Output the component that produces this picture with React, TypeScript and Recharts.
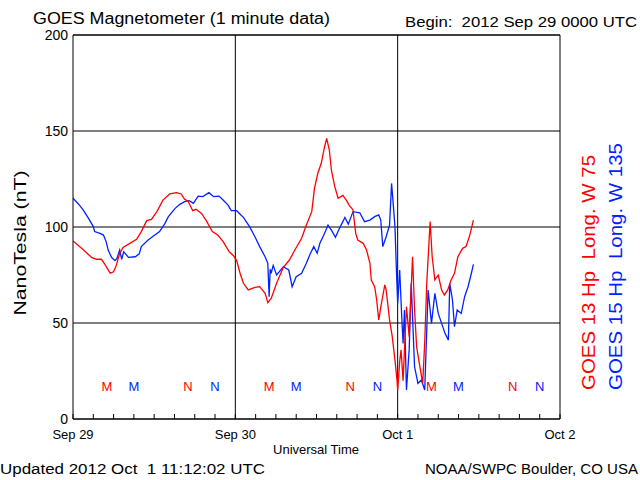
import {
  ComposedChart,
  Line,
  Scatter,
  XAxis,
  YAxis,
  CartesianGrid,
  ReferenceLine,
} from "recharts";

// hours since 2012 Sep 29 00:00 UTC
const redTimes = [
  0, 1.4, 2.8, 3.5, 4.2, 4.7, 5.5, 6.0, 6.4, 6.9, 7.4, 8.4, 9.4, 10.1, 10.9,
  11.6, 12.4, 13.3, 14.3, 15.3, 16.0, 16.5, 17.0, 17.7, 18.2, 19.0, 19.7, 20.6,
  21.4, 22.2, 23.1, 23.7, 24.2, 24.7, 25.2, 25.9, 26.9, 27.6, 28.4, 28.8, 29.3,
  30.1, 31.1, 32.0, 32.8, 33.8, 34.5, 35.3, 35.7, 36.2, 36.7, 37.2, 37.5, 37.9,
  38.2, 38.7, 39.2, 39.9, 40.4, 40.9, 41.4, 41.8, 42.1, 42.9, 43.4, 43.9, 44.1,
  44.6, 44.9, 45.2, 45.6, 46.1, 46.3, 46.8, 47.2, 47.6, 47.9, 48.0, 48.3, 48.5,
  48.8, 49.3, 49.7, 50.2, 50.5, 50.8, 51.2, 51.7, 52.0, 52.3, 52.8, 53.1, 53.5,
  54.0, 54.5, 54.9, 55.4, 55.9, 56.4, 56.9, 57.6, 58.1, 58.6, 59.2,
];
const redValues = [
  92.7, 88.5, 84, 83.2, 83.2, 80.7, 76, 76.7, 80, 86.3, 89.4, 91.5, 93.6, 97.6,
  103.3, 104, 108, 114, 117.2, 117.9, 117.2, 114.4, 113.5, 108.5, 109.2, 107.1,
  103.3, 97.6, 95.8, 92.4, 87.1, 85.2, 82.5, 75.9, 70.7, 67.2, 68.6, 68.9, 65.4,
  60.6, 62.8, 70.7, 79, 82.8, 88, 94.1, 101, 108, 120.1, 128, 133.2, 141.8,
  146.2, 140.1, 129.7, 121, 115, 116.5, 114, 111, 108.9, 96.7, 93.2, 91.5, 88,
  81.1, 72.4, 68.9, 62, 51.6, 60.2, 69.8, 67.2, 51.6, 42.9, 30.7, 20.3, 15, 30,
  36, 20, 58.5, 42.9, 84.5, 56.8, 37.7, 29, 18.5, 40, 70.7, 102.8, 84.5, 72.4,
  75, 67.2, 64.6, 67.2, 72.4, 75.9, 84.5, 88.9, 89.8, 94.9, 103.6,
];

const blueTimes = [
  0, 0.8, 1.5, 2.3, 3.0, 3.2, 4.0, 4.5, 4.9, 5.2, 5.7, 6.2, 6.5, 6.9, 7.2, 7.5,
  8.2, 9.2, 9.8, 10.1, 11.1, 12.1, 12.8, 13.6, 14.1, 15.1, 15.8, 16.5, 17.2,
  17.8, 18.5, 19.2, 20.1, 20.8, 21.6, 22.3, 22.9, 23.4, 24.2, 24.9, 25.2, 26.1,
  26.9, 27.6, 28.4, 28.8, 29.0, 29.15, 29.3, 29.6, 30.1, 31.1, 31.9, 32.4,
  33.0, 33.8, 34.5, 35.0, 35.6, 36.1, 36.5, 37.2, 37.7, 38.2, 38.8, 39.4, 40.2,
  40.7, 41.4, 42.4, 43.1, 43.9, 44.6, 45.2, 45.5, 45.8, 46.3, 46.8, 47.1, 47.3,
  47.6, 47.8, 48.0, 48.3, 48.6, 48.8, 49.0, 49.3, 49.7, 50.0, 50.5, 51.0, 51.5,
  52.0, 52.5, 53.0, 53.5, 54.0, 54.5, 55.0, 55.5, 55.7, 56.1, 56.4, 56.8, 57.4,
  57.9, 58.4, 58.9, 59.2,
];
const blueValues = [
  115, 112, 108.9, 104.5, 100.2, 97.6, 96.7, 95.8, 92.4, 88, 84.2, 82.5, 83.7,
  88, 83.2, 87.1, 84.2, 84.5, 86, 89.8, 93.2, 95.8, 97.6, 101.9, 105.4, 109.7,
  111.8, 113.2, 113.7, 112.3, 116.1, 115.8, 117.9, 115.8, 116.1, 113.7, 111.5,
  108.5, 108.5, 106, 105, 100.2, 94.9, 89.8, 84.5, 81.1, 63.7, 78, 75.9, 80, 75,
  79.3, 77.6, 68.9, 74.1, 75.9, 81.1, 85.4, 89.8, 86.3, 91.5, 96.7, 101, 98.4,
  94.6, 99.3, 105, 101.5, 108, 107.4, 102.8, 103.6, 105.4, 106.3, 103.6, 89.8,
  94.9, 101, 122.7, 114, 100.2, 79.3, 60.2, 77.6, 53.3, 39.4, 56.8, 15.1, 36,
  70.7, 27.2, 18.5, 20.3, 15.1, 67.2, 49.8, 65.4, 55, 49.8, 44.6, 41.1, 70.7,
  62, 48.1, 56.8, 55, 63.7, 68.9, 75.9, 80.5,
];

// local midnight (M) / noon (N) markers
const redMarkTimes = [5, 17, 29, 41, 53, 65];
const redMarkLabels = ["M", "N", "M", "N", "M", "N"];
const blueMarkTimes = [9, 21, 33, 45, 57, 69];
const blueMarkLabels = ["M", "N", "M", "N", "M", "N"];
const markLevel = 17;

const dayLabels = ["Sep 29", "Sep 30", "Oct 1", "Oct 2"];
const hourTicks = [
  0, 3, 6, 9, 12, 15, 18, 21, 24, 27, 30, 33, 36, 39, 42, 45, 48, 51, 54, 57,
  60, 63, 66, 69, 72,
];
const yTicks = [0, 50, 100, 150, 200];

const RED = "#ff0000";
const BLUE = "#0022ff";
const FONT = "'Liberation Sans', Arial, sans-serif";

const redData = redTimes.map((t, i) => ({ t, v: redValues[i] }));
const blueData = blueTimes.map((t, i) => ({ t, v: blueValues[i] }));
const redMarks = redMarkTimes.map((t, i) => ({ t, v: markLevel, label: redMarkLabels[i] }));
const blueMarks = blueMarkTimes.map((t, i) => ({ t, v: markLevel, label: blueMarkLabels[i] }));

const BottomTick = ({ x, y, payload }: any) => {
  const day = payload.value / 24;
  return (
    <g>
      <line x1={x} x2={x} y1={y} y2={y - 5} stroke="#000" />
      {Number.isInteger(day) && (
        <text x={x} y={y + 20} textAnchor="middle" fontSize={13} fontFamily={FONT} fill="#000">
          {dayLabels[day]}
        </text>
      )}
    </g>
  );
};

const TopTick = ({ x, y }: any) => (
  <line x1={x} x2={x} y1={y} y2={y + 5} stroke="#000" />
);

const markShape = (color: string) => (props: any) => (
  <text
    x={props.cx}
    y={props.cy + 5}
    textAnchor="middle"
    fontSize={13}
    fontFamily={FONT}
    fill={color}
  >
    {props.payload.label}
  </text>
);

const App = () => {
  return (
    <div style={{ position: "absolute", left: 0, top: 0, width: 640, height: 480, background: "#fff" }}>
      <ComposedChart
        width={640}
        height={480}
        margin={{ top: 34, right: 80, bottom: 60, left: 0 }}
      >
        <CartesianGrid vertical={false} stroke="#000" strokeOpacity={1} />
        <XAxis
          dataKey="t"
          type="number"
          domain={[0, 72]}
          ticks={hourTicks}
          interval={0}
          height={1}
          tickSize={0}
          tickMargin={0}
          tickLine={false}
          tick={BottomTick}
          axisLine={{ stroke: "#000" }}
          allowDataOverflow
        />
        <XAxis
          xAxisId="top"
          orientation="top"
          type="number"
          domain={[0, 72]}
          ticks={hourTicks}
          interval={0}
          height={1}
          tickSize={0}
          tickMargin={0}
          tickLine={false}
          tick={TopTick}
          axisLine={{ stroke: "#000" }}
        />
        <YAxis
          type="number"
          domain={[0, 200]}
          ticks={yTicks}
          interval={0}
          width={73}
          tickSize={0}
          tickMargin={5}
          tickLine={false}
          axisLine={{ stroke: "#000" }}
          tick={{ fontSize: 14, fill: "#000", fontFamily: FONT }}
        />
        <ReferenceLine x={24} stroke="#000" />
        <ReferenceLine x={48} stroke="#000" />
        <ReferenceLine x={72} stroke="#000" />
        <Line
          data={blueData}
          dataKey="v"
          type="linear"
          stroke={BLUE}
          strokeWidth={1.3}
          dot={false}
          isAnimationActive={false}
        />
        <Line
          data={redData}
          dataKey="v"
          type="linear"
          stroke={RED}
          strokeWidth={1.3}
          dot={false}
          isAnimationActive={false}
        />
        <Scatter data={redMarks} dataKey="v" shape={markShape(RED)} isAnimationActive={false} />
        <Scatter data={blueMarks} dataKey="v" shape={markShape(BLUE)} isAnimationActive={false} />
      </ComposedChart>
      <svg
        width={640}
        height={480}
        style={{ position: "absolute", left: 0, top: 0, pointerEvents: "none" }}
        fontFamily={FONT}
      >
        <text x={33} y={24} fontSize={16} textLength={297} lengthAdjust="spacingAndGlyphs">
          GOES Magnetometer (1 minute data)
        </text>
        <text x={405} y={27} fontSize={14} textLength={232} lengthAdjust="spacingAndGlyphs" style={{ whiteSpace: "pre" }}>
          Begin:  2012 Sep 29 0000 UTC
        </text>
        <text x={316} y={454} fontSize={13} textAnchor="middle">
          Universal Time
        </text>
        <text x={0} y={474} fontSize={14} textLength={265} lengthAdjust="spacingAndGlyphs" style={{ whiteSpace: "pre" }}>
          Updated 2012 Oct  1 11:12:02 UTC
        </text>
        <text x={425} y={474} fontSize={14} textLength={213} lengthAdjust="spacingAndGlyphs">
          NOAA/SWPC Boulder, CO USA
        </text>
        <text
          x={0}
          y={0}
          fontSize={17}
          textAnchor="middle"
          transform="translate(26,243) rotate(-90)"
          textLength={145}
          lengthAdjust="spacingAndGlyphs"
        >
          NanoTesla (nT)
        </text>
        <text
          x={0}
          y={0}
          fontSize={18}
          fill={RED}
          transform="translate(595,390) rotate(-90)"
          textLength={235}
          lengthAdjust="spacingAndGlyphs"
          style={{ whiteSpace: "pre" }}
        >
          GOES 13 Hp  Long. W 75
        </text>
        <text
          x={0}
          y={0}
          fontSize={18}
          fill={BLUE}
          transform="translate(622,390) rotate(-90)"
          textLength={247}
          lengthAdjust="spacingAndGlyphs"
          style={{ whiteSpace: "pre" }}
        >
          GOES 15 Hp  Long. W 135
        </text>
      </svg>
    </div>
  );
};

export default App;
